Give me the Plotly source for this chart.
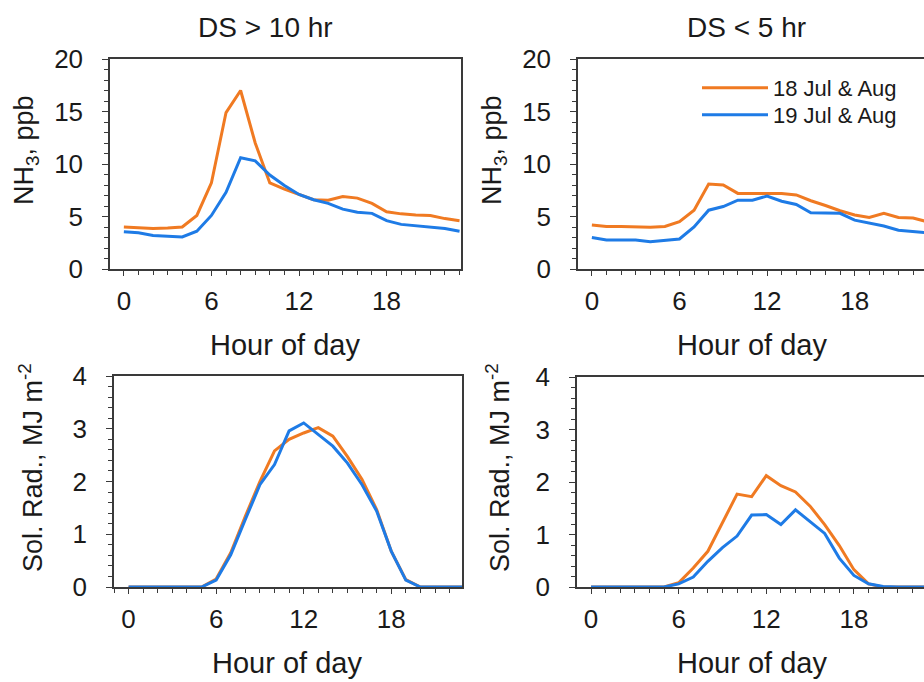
import plotly.graph_objects as go

hours = list(range(24))

# NH3 (ppb), DS > 10 hr
nh3_long_18 = [4.0, 3.9, 3.85, 3.9, 4.0, 5.1, 8.2, 14.9, 17.0, 12.0, 8.2, 7.6,
               7.1, 6.6, 6.55, 6.9, 6.75, 6.25, 5.45, 5.25, 5.15, 5.1, 4.8, 4.6]
nh3_long_19 = [3.55, 3.45, 3.2, 3.1, 3.05, 3.6, 5.1, 7.3, 10.6, 10.3, 8.95, 7.95,
               7.1, 6.6, 6.25, 5.7, 5.4, 5.3, 4.6, 4.25, 4.1, 3.95, 3.85, 3.6]
# NH3 (ppb), DS < 5 hr
nh3_short_18 = [4.2, 4.05, 4.05, 4.0, 3.97, 4.05, 4.5, 5.6, 8.1, 8.0, 7.2, 7.2,
                7.2, 7.2, 7.05, 6.5, 6.05, 5.55, 5.15, 4.9, 5.3, 4.9, 4.85, 4.5]
nh3_short_19 = [3.0, 2.76, 2.76, 2.76, 2.6, 2.76, 2.86, 4.0, 5.6, 5.95, 6.55, 6.55,
                6.95, 6.45, 6.15, 5.35, 5.3, 5.3, 4.65, 4.35, 4.1, 3.7, 3.55, 3.45]
# Solar radiation (MJ m-2), DS > 10 hr
sol_long_18 = [0, 0, 0, 0, 0, 0, 0.15, 0.65, 1.34, 2.0, 2.58, 2.8,
               2.92, 3.02, 2.86, 2.47, 2.04, 1.47, 0.68, 0.14, 0, 0, 0, 0]
sol_long_19 = [0, 0, 0, 0, 0, 0, 0.13, 0.61, 1.28, 1.94, 2.32, 2.96,
               3.11, 2.89, 2.67, 2.35, 1.94, 1.44, 0.68, 0.13, 0, 0, 0, 0]
# Solar radiation (MJ m-2), DS < 5 hr
sol_short_18 = [0, 0, 0, 0, 0, 0, 0.08, 0.36, 0.68, 1.22, 1.77, 1.72,
                2.12, 1.93, 1.81, 1.54, 1.19, 0.79, 0.33, 0.06, 0, 0, 0, 0]
sol_short_19 = [0, 0, 0, 0, 0, 0, 0.06, 0.19, 0.49, 0.75, 0.97, 1.37,
                1.38, 1.19, 1.47, 1.24, 1.02, 0.55, 0.22, 0.06, 0.01, 0, 0, 0]

series_names = ["18 Jul & Aug", "19 Jul & Aug"]
panel_titles = ["DS > 10 hr", "DS < 5 hr"]
x_ticks = [0, 6, 12, 18]

ORANGE = "#F07A22"
BLUE = "#1E7BE6"
FRAME = "#3a3a3a"
TXT = "#1a1a1a"
FONT = "Liberation Sans, Arial, sans-serif"

W, H = 924, 682

def px_x(a, b):
    return [a / W, min(b / W, 1.0)]

def px_y(top, bottom):
    return [1 - bottom / H, 1 - top / H]

fig = go.Figure()

panels = [
    # (xaxis id, yaxis id, data18, data19, xdomain, ydomain, xrange, yrange, dtick, minor, mirror_y, legend ids)
    ("x", "y", nh3_long_18, nh3_long_19, px_x(110, 461), px_y(59, 269), [-0.95, 23.1], [0, 20], 5, 1, True, None),
    ("x2", "y2", nh3_short_18, nh3_short_19, px_x(578, 924), px_y(59, 269), [-0.95, 22.75], [0, 20], 5, 1, False, ("legend", "legend2")),
    ("x3", "y3", sol_long_18, sol_long_19, px_x(114, 462), px_y(376, 587), [-1.0, 22.85], [0, 4], 1, 0.2, True, None),
    ("x4", "y4", sol_short_18, sol_short_19, px_x(577, 924), px_y(377, 587), [-0.96, 22.8], [0, 4], 1, 0.2, False, None),
]

layout_axes = {}
for i, (xa, ya, d18, d19, xd, yd, xr, yr, dt, mn, mirror_y, legs) in enumerate(panels):
    for k, (name, data, col) in enumerate(((series_names[0], d18, ORANGE), (series_names[1], d19, BLUE))):
        if legs:
            kw = dict(showlegend=True, legend=legs[k])
        else:
            kw = dict(showlegend=False)
        fig.add_trace(go.Scatter(
            x=hours, y=data, mode="lines", name=name,
            line=dict(color=col, width=3),
            xaxis=xa, yaxis=ya, **kw,
        ))
    xkey = "xaxis" if xa == "x" else "xaxis" + xa[1:]
    ykey = "yaxis" if ya == "y" else "yaxis" + ya[1:]
    layout_axes[xkey] = dict(
        domain=xd, range=xr, anchor=ya, tickvals=x_ticks, automargin=False,
        showline=True, linecolor=FRAME, linewidth=1.5, mirror=True,
        ticks="outside", ticklen=5, tickwidth=1.2, tickcolor=FRAME,
        minor=dict(dtick=1, tick0=0, ticks="outside", ticklen=4, tickwidth=1, tickcolor=FRAME),
        showgrid=False, zeroline=False,
        tickfont=dict(family=FONT, size=26, color=TXT),
        ticklabelstandoff=3,
    )
    layout_axes[ykey] = dict(
        domain=yd, range=yr, anchor=xa, dtick=dt, tick0=0, automargin=False,
        showline=True, linecolor=FRAME, linewidth=1.5, mirror=mirror_y,
        ticks="outside", ticklen=6, tickwidth=1.2, tickcolor=FRAME,
        minor=dict(dtick=mn, tick0=0, ticks="outside", ticklen=4, tickwidth=1, tickcolor=FRAME),
        showgrid=False, zeroline=False,
        tickfont=dict(family=FONT, size=26, color=TXT),
        ticklabelstandoff=14,
    )

def ann(text, cx, cy, size, angle=0):
    return dict(text=text, x=cx / W, y=1 - cy / H, xref="paper", yref="paper",
                xanchor="center", yanchor="middle", textangle=angle,
                showarrow=False, font=dict(family=FONT, size=size, color=TXT))

annotations = [
    ann(panel_titles[0], 265, 28, 28),
    ann(panel_titles[1], 746, 28, 28),
]
for cx, cy in ((285, 345), (752, 345), (287, 663), (752, 663)):
    annotations.append(ann("Hour of day", cx, cy, 29))
for cx, cy in ((26, 150), (494, 150)):
    annotations.append(ann("NH<sub>3</sub>, ppb", cx, cy, 27, -90))
for cx, cy in ((31, 468), (498, 468)):
    annotations.append(ann("Sol. Rad., MJ m<sup>-2</sup>", cx, cy, 27, -90))

legend_common = dict(xanchor="left", yanchor="middle", bgcolor="rgba(0,0,0,0)",
                     font=dict(family=FONT, size=22, color=TXT), itemwidth=66)

fig.update_layout(
    width=W, height=H,
    margin=dict(l=0, r=0, t=0, b=0, pad=0, autoexpand=False),
    paper_bgcolor="white", plot_bgcolor="white",
    showlegend=True,
    legend=dict(x=697 / W, y=1 - 88 / H, **legend_common),
    legend2=dict(x=697 / W, y=1 - 115 / H, **legend_common),
    annotations=annotations,
    **layout_axes,
)

fig.write_html("out.html")
